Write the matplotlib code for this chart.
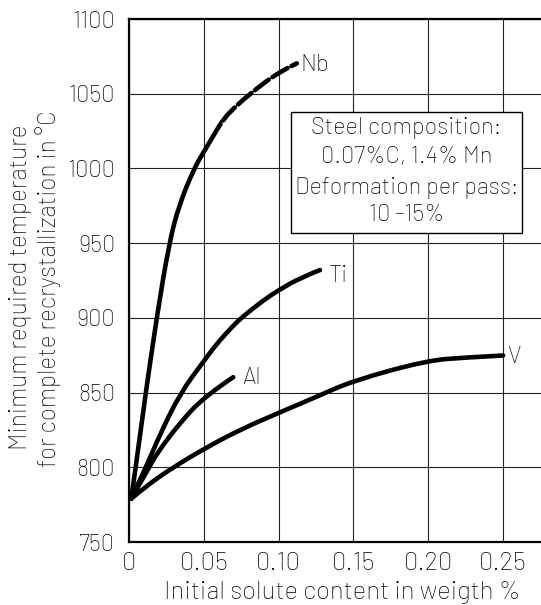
import matplotlib
matplotlib.use("Agg")
import matplotlib.pyplot as plt
from matplotlib.patches import Rectangle, PathPatch
from matplotlib.path import Path

plt.rcParams['font.family'] = ['Barlow', 'Barlow Semi Condensed', 'DejaVu Sans']
plt.rcParams['font.weight'] = 'light'
plt.rcParams['text.color'] = 'black'

# ---- data ----
nb_x = [0.0015, 0.0045, 0.0112, 0.0185, 0.0268, 0.0335, 0.0435, 0.050, 0.0586, 0.062]
nb_y = [779, 800, 850, 900, 950, 975.5, 1000, 1011, 1025.6, 1031]
nb_dash_x = [0.062, 0.0675, 0.0809, 0.1003, 0.1122]
nb_dash_y = [1031, 1038, 1050, 1064.7, 1070.3]

ti_x = [0.0015, 0.0118, 0.0207, 0.0345, 0.050, 0.0586, 0.0697, 0.076, 0.0898, 0.100, 0.115, 0.1277]
ti_y = [779, 801, 822, 850, 871, 882.6, 894.8, 900.8, 911.7, 918.5, 927, 932]

al_x = [0.0015, 0.0135, 0.0185, 0.033, 0.0505, 0.0697]
al_y = [779, 800, 809, 828.5, 847.5, 860.3]

v_x = [0.0015, 0.0118, 0.0295, 0.052, 0.075, 0.101, 0.125, 0.150, 0.199, 0.225, 0.2502]
v_y = [779, 787.7, 800, 813.4, 825.5, 836.8, 847, 858, 871.4, 873.5, 874.8]

x_ticks = [0, 0.05, 0.10, 0.15, 0.20, 0.25]
x_tick_labels = ['0', '0.05', '0.10', '0.15', '0.20', '0.25']
y_ticks = [750, 800, 850, 900, 950, 1000, 1050, 1100]

curve_labels = ['Nb', 'Ti', 'Al', 'V']
box_lines = ['Steel composition:', '0.07%C, 1.4% Mn', 'Deformation per pass:', '10 -15%']


def smooth_path(xs, ys):
    """Quadratic-Bezier path whose control points are the data points."""
    pts = list(zip(xs, ys))
    verts = [pts[0]]
    codes = [Path.MOVETO]
    n = len(pts)
    for i in range(1, n - 1):
        p, q = pts[i], pts[i + 1]
        end = q if i == n - 2 else ((p[0] + q[0]) / 2, (p[1] + q[1]) / 2)
        verts += [p, end]
        codes += [Path.CURVE3, Path.CURVE3]
    return Path(verts, codes)


def smooth_curve(ax, xs, ys, clip=None, **kw):
    patch = PathPatch(smooth_path(xs, ys), facecolor='none', transform=ax.transData, **kw)
    ax.add_patch(patch)
    if clip is not None:
        patch.set_clip_path(clip)
    return patch


# ---- figure ----
fig = plt.figure(figsize=(5.41, 6.05), dpi=100)
ax = fig.add_axes([129/541, 1 - 542/605, 1 - 129/541, (542 - 19)/605])
ax.set_xlim(0, 0.2755)
ax.set_ylim(750, 1100)

lw = 3.3
kw = dict(edgecolor='black', lw=lw, capstyle='round', joinstyle='round', zorder=3)

# Nb: one smooth curve, solid up to the first dashed point, dashed beyond
nb_all_x = nb_x + nb_dash_x[1:]
nb_all_y = nb_y + nb_dash_y[1:]
x_split = nb_dash_x[0]
clip_solid = Rectangle((-1, 0), 1 + x_split, 5000, transform=ax.transData)
clip_dash = Rectangle((x_split, 0), 1, 5000, transform=ax.transData)
smooth_curve(ax, nb_all_x, nb_all_y, clip=clip_solid, **kw)
smooth_curve(ax, nb_all_x, nb_all_y, clip=clip_dash, edgecolor='black', lw=lw,
             linestyle=(0.6, (3.8, 1.0)), capstyle='round', zorder=3)

smooth_curve(ax, ti_x, ti_y, **kw)
smooth_curve(ax, al_x, al_y, **kw)
smooth_curve(ax, v_x, v_y, **kw)

fs_lab = 17
ax.text(0.1146, nb_dash_y[-1] - 1, curve_labels[0], fontsize=fs_lab, va='center', ha='left')
ax.text(0.1335, ti_y[-1] - 4, curve_labels[1], fontsize=fs_lab, va='center', ha='left')
ax.text(0.0755, al_y[-1] - 0.5, curve_labels[2], fontsize=fs_lab, va='center', ha='left')
ax.text(0.2525, v_y[-1] - 1, curve_labels[3], fontsize=fs_lab, va='center', ha='left')

# info box
ax.add_patch(Rectangle((0.108, 957), 0.263 - 0.108, 1038 - 957, facecolor='white',
                       edgecolor='black', lw=1.0, zorder=4))
for yy, line in zip([1027, 1007.5, 987, 968.5], box_lines):
    ax.text(0.1855, yy, line, fontsize=17, ha='center', va='center', zorder=5)

ax.set_xticks(x_ticks)
ax.set_xticklabels(x_tick_labels)
ax.set_yticks(y_ticks)
ax.tick_params(axis='both', length=0)
ax.tick_params(axis='y', pad=10, labelsize=17)
ax.tick_params(axis='x', pad=7, labelsize=18.5)
ax.grid(True, color='#222222', lw=0.8, zorder=1)
ax.set_axisbelow(True)
for s in ['left', 'bottom', 'top']:
    ax.spines[s].set_linewidth(1.6)
ax.spines['right'].set_visible(False)

fig.text(342/541, 1 - 593/605, 'Initial solute content in weigth %', fontsize=18.5,
         ha='center', va='center')
fig.text(21/541, 1 - 287/605, 'Minimum required temperature', fontsize=17.5,
         ha='center', va='center', rotation=90)
fig.text(48/541, 1 - 289/605, 'for complete recrystallization in °C', fontsize=17.5,
         ha='center', va='center', rotation=90)

fig.savefig('out.png', dpi=100)
